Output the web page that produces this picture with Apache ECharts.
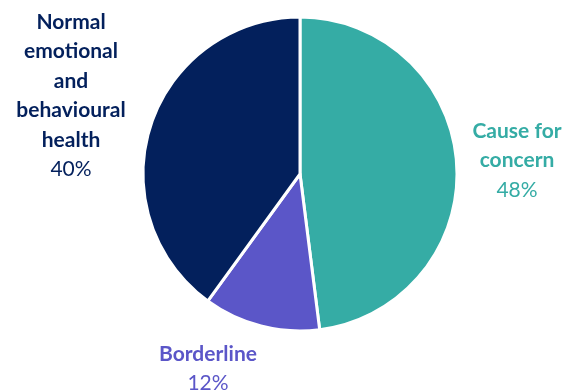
<!DOCTYPE html>
<html>
<head>
<meta charset="utf-8">
<script src="https://cdn.jsdelivr.net/npm/echarts@6/dist/echarts.min.js"></script>
<style>
  html, body { margin: 0; padding: 0; background: #ffffff; }
  #chart { width: 570px; height: 391px; }
</style>
</head>
<body>
<div id="chart"></div>
<script>
// Share of children by emotional and behavioural health outcome
const categories = ['Cause for\nconcern', 'Borderline', 'Normal\nemotional\nand\nbehavioural\nhealth'];
const shares = [48, 12, 40];
const colors = ['#35aca5', '#5b56c8', '#03205c'];

// Label anchor points (top-centre of each label block)
const labelSpots = [
  { x: 517, y: 116 },
  { x: 208, y: 339 },
  { x: 71, y: 7 }
];

const chart = echarts.init(document.getElementById('chart'), null, { renderer: 'canvas' });

chart.setOption({
  animation: false,
  backgroundColor: '#ffffff',
  series: [{
    type: 'pie',
    center: [300, 174],
    radius: 157,
    startAngle: 90,
    clockwise: true,
    data: categories.map((name, i) => ({
      name: name,
      value: shares[i],
      itemStyle: { color: colors[i] },
      label: { color: colors[i] }
    })),
    itemStyle: { borderColor: '#ffffff', borderWidth: 3 },
    labelLine: { show: false },
    label: {
      show: true,
      position: 'outside',
      overflow: 'none',
      width: 300,
      fontFamily: 'Lato',
      formatter: p => p.name.split('\n').map(l => '{n|' + l + '}').join('\n') + '\n{p|' + p.value + '%}',
      rich: {
        n: { fontFamily: 'Lato', fontWeight: 'bold', fontSize: 21, lineHeight: 29.5, align: 'center' },
        p: { fontFamily: 'Lato', fontWeight: 'normal', fontSize: 21, lineHeight: 29.5, align: 'center' }
      }
    },
    labelLayout: params => ({
      x: labelSpots[params.dataIndex].x,
      y: labelSpots[params.dataIndex].y,
      align: 'center',
      verticalAlign: 'top',
      hideOverlap: false,
      moveOverlap: null
    })
  }]
});
</script>
</body>
</html>
